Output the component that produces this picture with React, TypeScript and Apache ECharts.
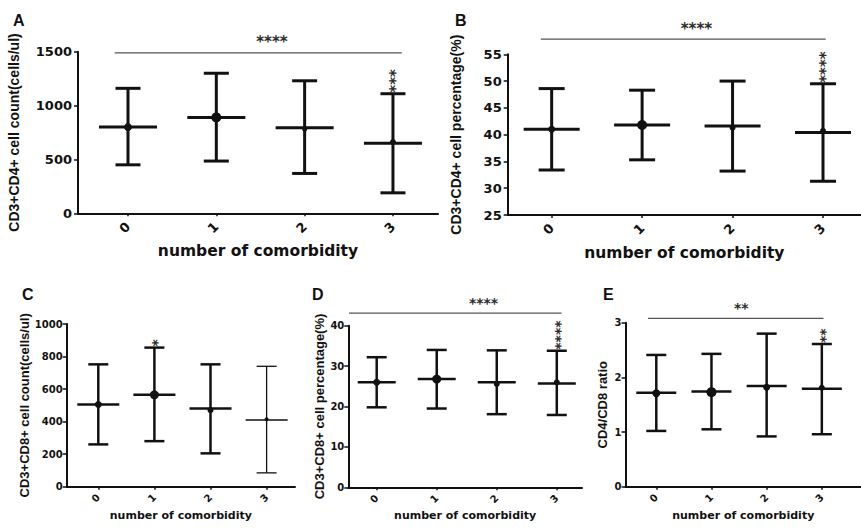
import React, { useEffect, useRef } from 'react';
import * as echarts from 'echarts';

// ---------- data ----------
const categories = ['0', '1', '2', '3'];

const aCenter = [800, 890, 795, 650];
const aDot = [800, 890, 780, 662];
const aUpper = [1160, 1300, 1230, 1110];
const aLower = [450, 485, 370, 190];
const aSig = ['', '', '', '***'];
const aTicks = [0, 500, 1000, 1500];
const aBracket = [-0.15, 3.1, 1490, 1.63];
const aBracketLabel = '****';

const bCenter = [41.0, 41.8, 41.6, 40.4];
const bDot = [41.0, 41.8, 41.3, 40.7];
const bUpper = [48.6, 48.3, 50.0, 49.5];
const bLower = [33.4, 35.3, 33.2, 31.3];
const bSig = ['', '', '', '****'];
const bTicks = [25, 30, 35, 40, 45, 50, 55];
const bBracket = [-0.12, 3.03, 57.85, 1.6];
const bBracketLabel = '****';

const cCenter = [505, 565, 480, 410];
const cDot = [505, 565, 470, 415];
const cUpper = [752, 855, 752, 740];
const cLower = [260, 280, 205, 85];
const cSig = ['', '*', '', ''];
const cTicks = [0, 200, 400, 600, 800, 1000];

const dCenter = [26.0, 26.8, 26.0, 25.7];
const dDot = [26.0, 26.8, 25.6, 26.0];
const dUpper = [32.2, 34.0, 33.9, 33.8];
const dLower = [19.8, 19.5, 18.1, 17.9];
const dSig = ['', '', '', '****'];
const dTicks = [0, 10, 20, 30, 40];
const dBracket = [-0.46, 3.08, 43.1, 1.78];
const dBracketLabel = '****';

const eCenter = [1.72, 1.74, 1.84, 1.79];
const eDot = [1.71, 1.73, 1.82, 1.81];
const eUpper = [2.41, 2.43, 2.8, 2.61];
const eLower = [1.02, 1.05, 0.92, 0.96];
const eSig = ['', '', '', '**'];
const eTicks = [0, 1, 2, 3];
const eBracket = [-0.15, 3.03, 3.08, 1.54];
const eBracketLabel = '**';

const xTitle = 'number of comorbidity';

// ---------- styling / layout ----------
type Panel = {
  letter: string;
  center: number[];
  dot: number[];
  upper: number[];
  lower: number[];
  sig: string[];
  ticks: number[];
  yTitle: string;
  bracket?: number[];
  bracketLabel?: string;
  grid: { left: number; top: number; width: number; height: number };
  xMin: number;
  xMax: number;
  big: boolean;
  meanHalf: number;
  capHalf: number;
  lw: number[];
  dotR: number[];
  yNameGap: number;
  xNameGap: number;
  letterPos: [number, number];
};

const panels: Panel[] = [
  {
    letter: 'A', center: aCenter, dot: aDot, upper: aUpper, lower: aLower, sig: aSig, ticks: aTicks,
    yTitle: 'CD3+CD4+ cell count(cells/ul)', bracket: aBracket, bracketLabel: aBracketLabel,
    grid: { left: 78, top: 51.7, width: 360, height: 161.6 }, xMin: -0.566, xMax: 3.51,
    big: true, meanHalf: 29, capHalf: 12.5, lw: [3, 3, 3, 3], dotR: [4, 5, 2.5, 3],
    yNameGap: 57, xNameGap: 30, letterPos: [13, 12],
  },
  {
    letter: 'B', center: bCenter, dot: bDot, upper: bUpper, lower: bLower, sig: bSig, ticks: bTicks,
    yTitle: 'CD3+CD4+ cell percentage(%)', bracket: bBracket, bracketLabel: bBracketLabel,
    grid: { left: 507.7, top: 54.3, width: 353.3, height: 160.7 }, xMin: -0.486, xMax: 3.42,
    big: true, meanHalf: 28, capHalf: 13, lw: [3, 3, 3, 3], dotR: [3.5, 5, 3, 3],
    yNameGap: 45, xNameGap: 30, letterPos: [455, 12],
  },
  {
    letter: 'C', center: cCenter, dot: cDot, upper: cUpper, lower: cLower, sig: cSig, ticks: cTicks,
    yTitle: 'CD3+CD8+ cell count(cells/ul)',
    grid: { left: 66.7, top: 324, width: 228.3, height: 162.7 }, xMin: -0.563, xMax: 3.506,
    big: false, meanHalf: 21, capHalf: 10, lw: [2.5, 2.5, 2.5, 1.3], dotR: [3.5, 4.5, 3, 2],
    yNameGap: 33, xNameGap: 23, letterPos: [22, 286],
  },
  {
    letter: 'D', center: dCenter, dot: dDot, upper: dUpper, lower: dLower, sig: dSig, ticks: dTicks,
    yTitle: 'CD3+CD8+ cell percentage(%)', bracket: dBracket, bracketLabel: dBracketLabel,
    grid: { left: 348.3, top: 325.7, width: 233.7, height: 161.6 }, xMin: -0.473, xMax: 3.42,
    big: false, meanHalf: 19, capHalf: 10, lw: [2.5, 2.5, 2.5, 2.5], dotR: [3.5, 4.5, 3, 3],
    yNameGap: 20, xNameGap: 23, letterPos: [312, 286],
  },
  {
    letter: 'E', center: eCenter, dot: eDot, upper: eUpper, lower: eLower, sig: eSig, ticks: eTicks,
    yTitle: 'CD4/CD8 ratio', bracket: eBracket, bracketLabel: eBracketLabel,
    grid: { left: 625.5, top: 322.7, width: 260, height: 164 }, xMin: -0.558, xMax: 3.71,
    big: false, meanHalf: 20, capHalf: 10, lw: [2.5, 2.5, 2.5, 2.5], dotR: [4, 5, 3.5, 3],
    yNameGap: 17, xNameGap: 23, letterPos: [603, 286],
  },
];

const INK = '#111';
const STAR = '#2a2a2a';

function buildOption() {
  const grid: any[] = [];
  const xAxis: any[] = [];
  const yAxis: any[] = [];
  const series: any[] = [];
  const graphic: any[] = [];

  panels.forEach((p, k) => {
    const tickFont = p.big ? 13 : 10;
    grid.push({ ...p.grid, containLabel: false });
    xAxis.push({
      type: 'value',
      gridIndex: k,
      min: p.xMin,
      max: p.xMax,
      name: xTitle,
      nameLocation: 'middle',
      nameGap: p.xNameGap,
      nameTextStyle: {
        fontFamily: 'DejaVu Sans',
        fontWeight: 'bold',
        fontSize: p.big ? 15.5 : 11,
        color: INK,
      },
      axisLine: { show: true, onZero: false, lineStyle: { color: INK, width: 2 } },
      axisTick: { show: true, customValues: [0, 1, 2, 3], length: 3, lineStyle: { color: INK, width: 1.5 } },
      axisLabel: {
        customValues: [0, 1, 2, 3],
        formatter: (v: number) => categories[Math.round(v)] ?? '',
        rotate: 45,
        margin: p.big ? 11 : 9,
        fontFamily: 'DejaVu Sans',
        fontWeight: 'bold',
        fontSize: tickFont,
        color: INK,
      },
      splitLine: { show: false },
    });
    yAxis.push({
      type: 'value',
      gridIndex: k,
      min: p.ticks[0],
      max: p.ticks[p.ticks.length - 1],
      interval: p.ticks[1] - p.ticks[0],
      name: p.yTitle,
      nameLocation: 'middle',
      nameRotate: 90,
      nameGap: p.yNameGap,
      nameTextStyle: {
        fontFamily: 'Liberation Sans',
        fontWeight: 'bold',
        fontSize: p.big ? 14 : 13,
        color: INK,
      },
      axisLine: { show: true, onZero: false, lineStyle: { color: INK, width: 2 } },
      axisTick: { show: true, length: 4, lineStyle: { color: INK, width: 1.5 } },
      axisLabel: {
        margin: p.big ? 6 : 4,
        formatter: (v: number) => String(v),
        fontFamily: 'DejaVu Sans',
        fontWeight: 'bold',
        fontSize: tickFont,
        color: INK,
      },
      splitLine: { show: false },
    });

    const rows = p.center.map((c, i) => [i, c, p.lower[i], p.upper[i], p.dot[i]]);
    series.push({
      type: 'custom',
      xAxisIndex: k,
      yAxisIndex: k,
      clip: false,
      data: rows,
      encode: { x: 0, y: [1, 2, 3, 4] },
      renderItem: (params: any, api: any) => {
        const i = params.dataIndex;
        const x = api.value(0);
        const pc = api.coord([x, api.value(1)]);
        const pl = api.coord([x, api.value(2)]);
        const ph = api.coord([x, api.value(3)]);
        const pd = api.coord([x, api.value(4)]);
        const lw = p.lw[i];
        const st = { stroke: INK, lineWidth: lw };
        const cx = pc[0];
        const children: any[] = [
          { type: 'line', shape: { x1: cx, y1: ph[1], x2: cx, y2: pl[1] }, style: st },
          { type: 'line', shape: { x1: cx - p.capHalf, y1: ph[1], x2: cx + p.capHalf, y2: ph[1] }, style: st },
          { type: 'line', shape: { x1: cx - p.capHalf, y1: pl[1], x2: cx + p.capHalf, y2: pl[1] }, style: st },
          { type: 'line', shape: { x1: cx - p.meanHalf, y1: pc[1], x2: cx + p.meanHalf, y2: pc[1] }, style: st },
          { type: 'circle', shape: { cx: pd[0], cy: pd[1], r: p.dotR[i] }, style: { fill: INK } },
        ];
        if (p.sig[i]) {
          children.push({
            type: 'text',
            x: cx + 3,
            y: ph[1] - 1,
            rotation: Math.PI / 2,
            style: {
              text: p.sig[i],
              fill: STAR,
              fontFamily: 'DejaVu Sans',
              fontWeight: 'bold',
              fontSize: p.big ? 15 : 14,
              align: 'left',
              verticalAlign: 'middle',
            },
          });
        }
        return { type: 'group', children };
      },
    });

    if (p.bracket) {
      const b = p.bracket;
      series.push({
        type: 'custom',
        xAxisIndex: k,
        yAxisIndex: k,
        clip: false,
        data: [[b[0], b[2], b[1], b[3]]],
        encode: { x: [0, 2, 3], y: 1 },
        renderItem: (_params: any, api: any) => {
          const p0 = api.coord([api.value(0), api.value(1)]);
          const p1 = api.coord([api.value(2), api.value(1)]);
          const pt = api.coord([api.value(3), api.value(1)]);
          return {
            type: 'group',
            children: [
              { type: 'line', shape: { x1: p0[0], y1: p0[1], x2: p1[0], y2: p1[1] }, style: { stroke: '#555', lineWidth: 1.3 } },
              {
                type: 'text',
                x: pt[0],
                y: pt[1] - 3,
                style: {
                  text: p.bracketLabel,
                  fill: STAR,
                  fontFamily: 'DejaVu Sans',
                  fontWeight: 'bold',
                  fontSize: p.big ? 15 : 14,
                  align: 'center',
                  verticalAlign: 'bottom',
                },
              },
            ],
          };
        },
      });
    }

    graphic.push({
      type: 'text',
      x: p.letterPos[0],
      y: p.letterPos[1],
      style: {
        text: p.letter,
        fill: INK,
        fontFamily: 'Liberation Sans',
        fontWeight: 'bold',
        fontSize: 16,
      },
    });
  });

  return {
    animation: false,
    backgroundColor: '#ffffff',
    grid,
    xAxis,
    yAxis,
    series,
    graphic,
  };
}

export default function App() {
  const ref = useRef<HTMLDivElement>(null);
  useEffect(() => {
    if (!ref.current) return;
    const chart = echarts.init(ref.current, undefined, { renderer: 'svg' });
    chart.setOption(buildOption() as any);
    return () => chart.dispose();
  }, []);
  return (
    <div
      ref={ref}
      style={{ position: 'fixed', left: 0, top: 0, width: 861, height: 531, background: '#fff' }}
    />
  );
}
